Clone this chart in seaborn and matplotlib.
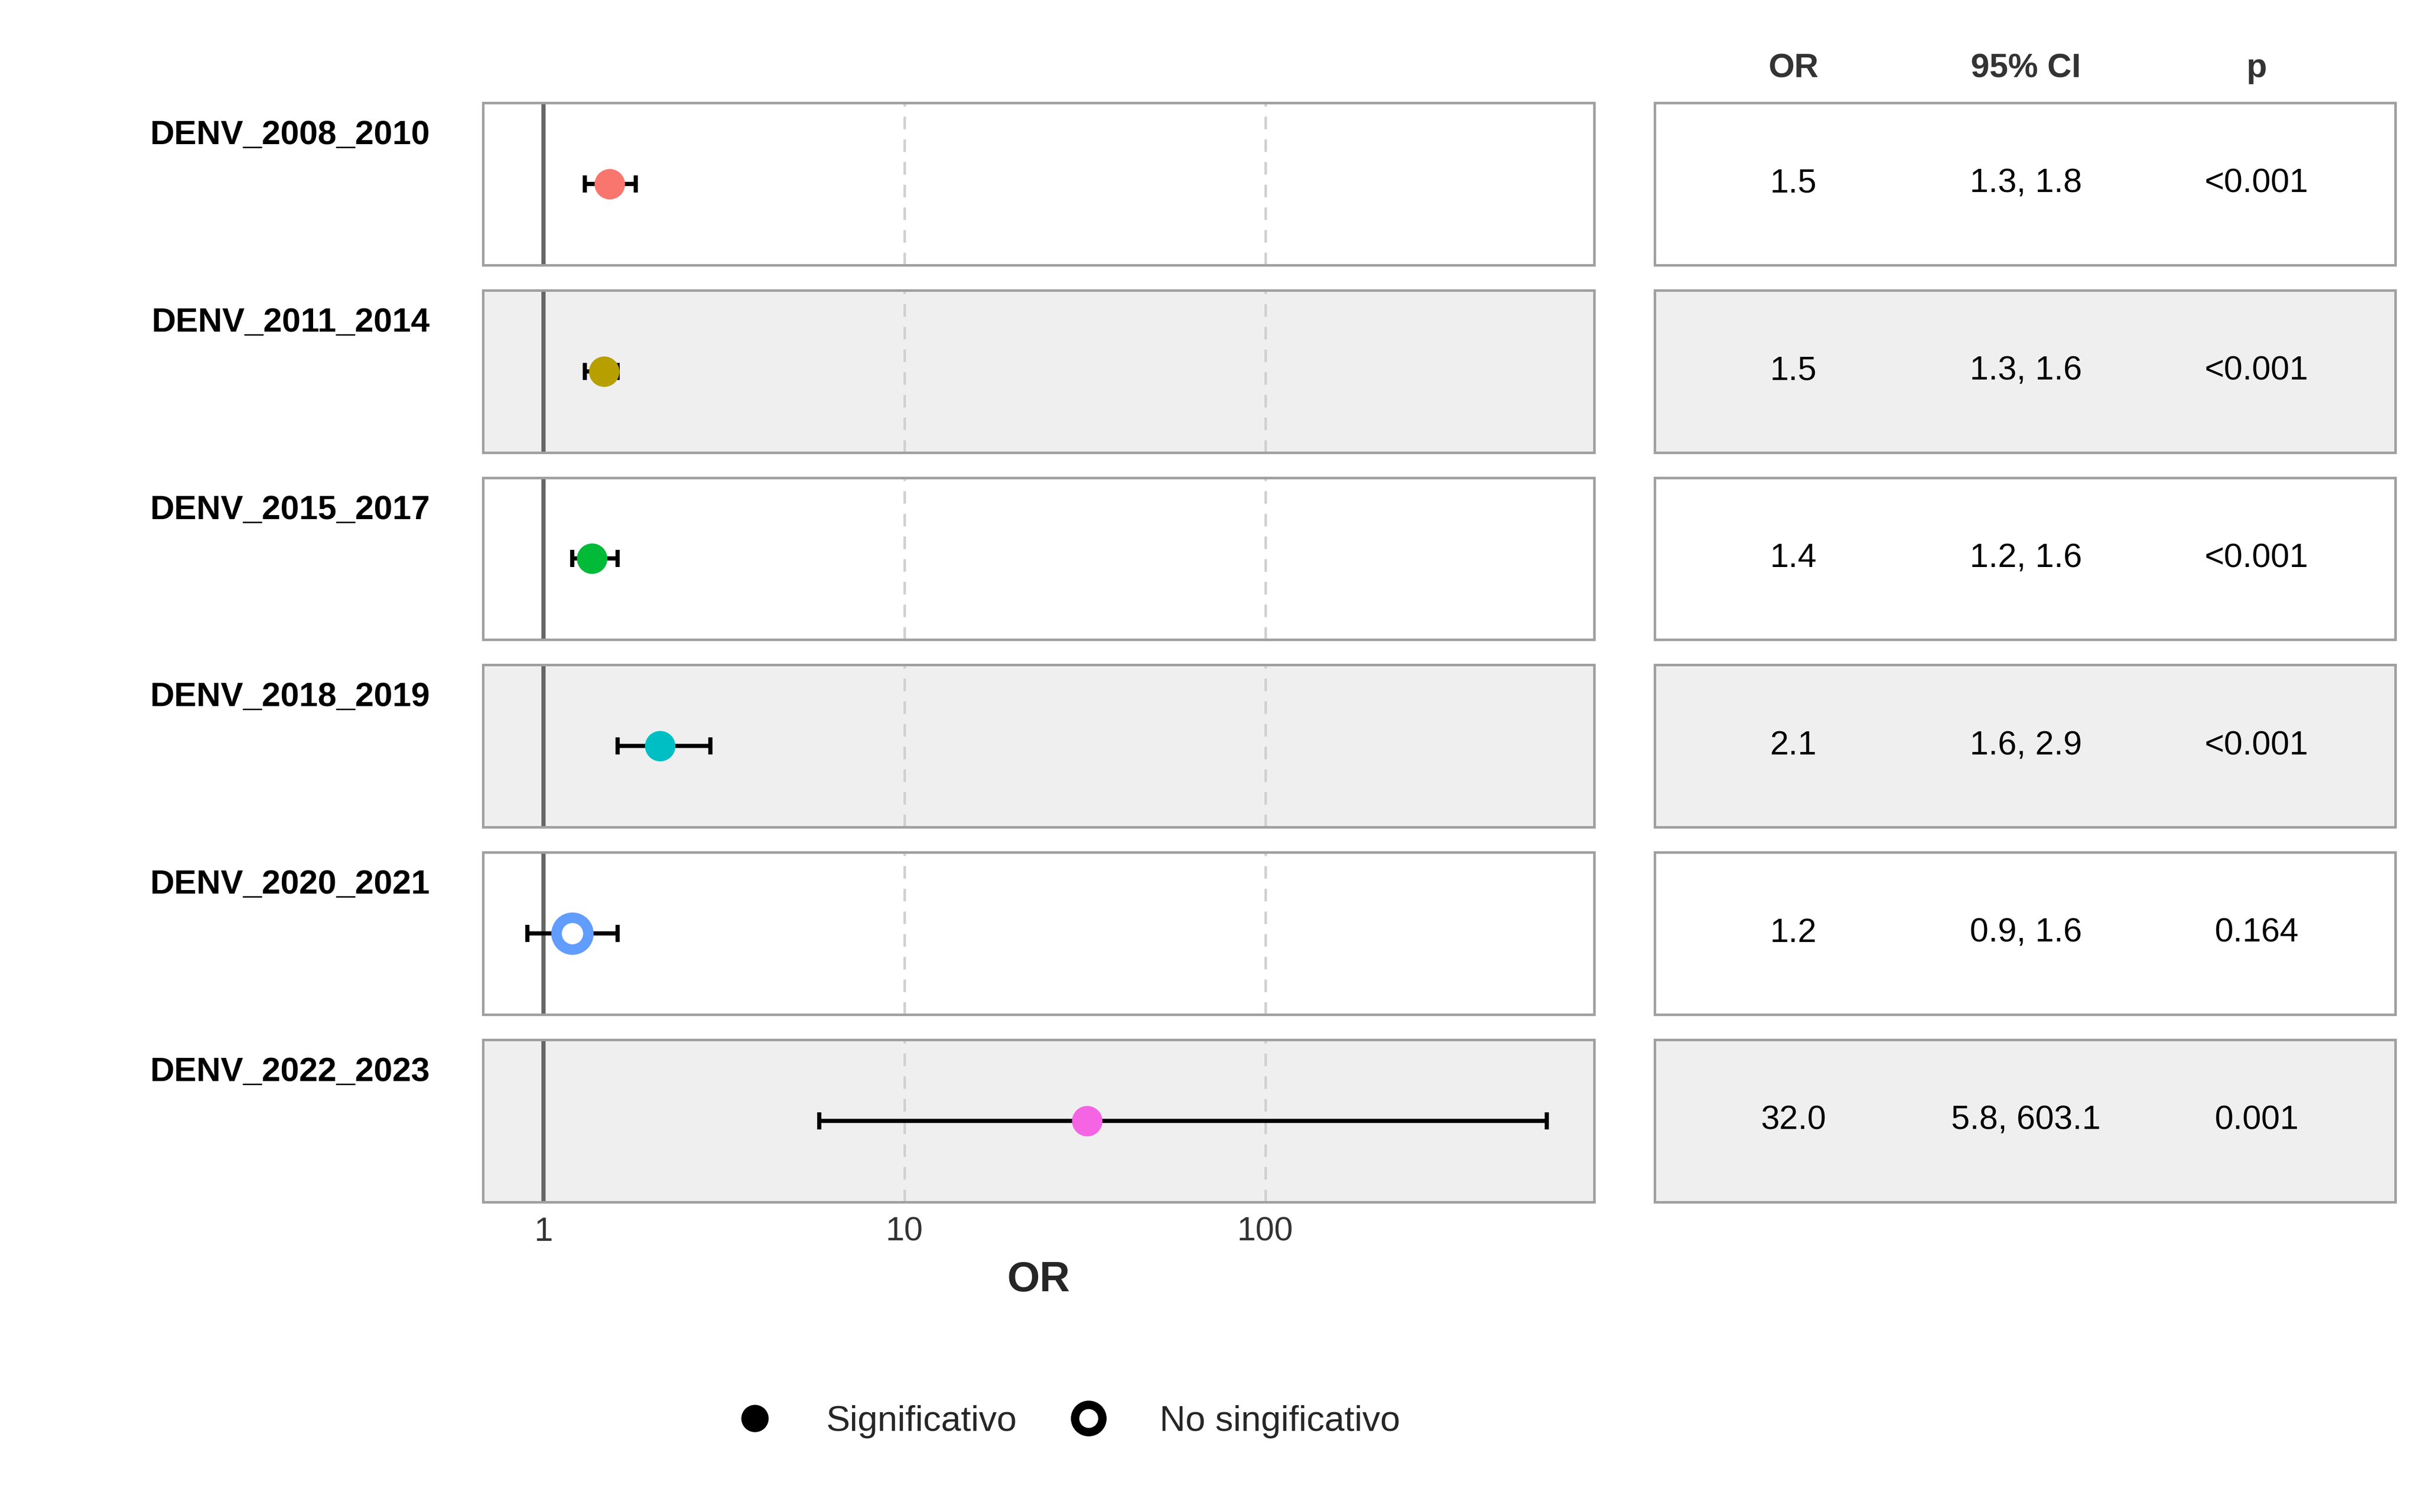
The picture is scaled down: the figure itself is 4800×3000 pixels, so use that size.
import matplotlib
matplotlib.use("Agg")
import matplotlib.pyplot as plt
import seaborn as sns
import pandas as pd
from matplotlib.lines import Line2D

sns.set_theme(style="white")
plt.rcParams['font.family'] = ['Liberation Sans', 'DejaVu Sans']

periods = ["DENV_2008_2010", "DENV_2011_2014", "DENV_2015_2017",
           "DENV_2018_2019", "DENV_2020_2021", "DENV_2022_2023"]
odds = [1.52, 1.47, 1.36, 2.1, 1.2, 32.0]
low = [1.3, 1.3, 1.2, 1.6, 0.9, 5.8]
high = [1.8, 1.6, 1.6, 2.9, 1.6, 603.1]
or_txt = ["1.5", "1.5", "1.4", "2.1", "1.2", "32.0"]
ci_txt = ["1.3, 1.8", "1.3, 1.6", "1.2, 1.6", "1.6, 2.9", "0.9, 1.6", "5.8, 603.1"]
p_txt = ["<0.001", "<0.001", "<0.001", "<0.001", "0.164", "0.001"]
signif = [True, True, True, True, False, True]
colors = ["#F8766D", "#B79F00", "#00BA38", "#00BFC4", "#619CFF", "#F564E3"]

W, H = 1553, 970
fig = plt.figure(figsize=(16, 10), dpi=300)

def box(x0, x1, y0, y1):
    return [x0 / W, 1 - y1 / H, (x1 - x0) / W, (y1 - y0) / H]

border = "#A0A0A0"
for i, name in enumerate(periods):
    top = 66 + i * 120.2
    bot = top + 104
    bg = "white" if i % 2 == 0 else "#EFEFEF"
    ax = fig.add_axes(box(310, 1023, top, bot))
    ax.set_facecolor(bg)
    ax.set_xscale("log")
    ax.set_xlim(0.679, 815)
    ax.set_ylim(-1, 1)
    for v in (10, 100):
        ax.axvline(v, color="#D0D0D0", ls=(0, (5, 4)), lw=1.2, zorder=0)
    ax.axvline(1, color="#666666", lw=2, zorder=1)
    ax.errorbar([odds[i]], [0], xerr=[[odds[i] - low[i]], [high[i] - odds[i]]],
                fmt="none", ecolor="black", elinewidth=2, capsize=4, capthick=2, zorder=2)
    d = pd.DataFrame({"x": [odds[i]], "y": [0], "g": [name]})
    if signif[i]:
        sns.scatterplot(data=d, x="x", y="y", hue="g", palette=[colors[i]], s=180,
                        edgecolor=colors[i], ax=ax, legend=False, zorder=3)
    else:
        sns.scatterplot(data=d, x="x", y="y", hue="g", palette=["white"], s=230,
                        edgecolor=colors[i], linewidth=5, ax=ax, legend=False, zorder=3)
    ax.set_yticks([])
    ax.set_ylabel("")
    for s in ax.spines.values():
        s.set_color(border)
        s.set_linewidth(1.2)
    if i == len(periods) - 1:
        ax.set_xticks([1, 10, 100])
        ax.set_xticklabels(["1", "10", "100"], fontsize=16, color="#333333")
        ax.tick_params(axis="x", length=0, pad=7)
        ax.minorticks_off()
        ax.set_xlabel("OR", fontsize=20, fontweight="bold", labelpad=6)
    else:
        ax.set_xticks([])
        ax.minorticks_off()
        ax.set_xlabel("")
    fig.text(276 / W, 1 - (top + 21) / H, name, ha="right", va="center",
             fontsize=16, fontweight="bold", color="black")

    axr = fig.add_axes(box(1062, 1537, top, bot))
    axr.set_facecolor(bg)
    axr.set_xlim(1062, 1537)
    axr.set_ylim(-1, 1)
    axr.set_xticks([])
    axr.set_yticks([])
    for s in axr.spines.values():
        s.set_color(border)
        s.set_linewidth(1.2)
    for xc, t in zip((1151, 1300, 1448), (or_txt[i], ci_txt[i], p_txt[i])):
        axr.text(xc, 0, t, ha="center", va="center", fontsize=16, color="black")

for xc, t in zip((1151, 1300, 1448), ("OR", "95% CI", "p")):
    fig.text(xc / W, 1 - 44 / H, t, ha="center", va="center", fontsize=16,
             fontweight="bold", color="#333333")

handles = [Line2D([], [], marker="o", ls="none", color="black", markersize=12),
           Line2D([], [], marker="o", ls="none", markerfacecolor="white",
                  markeredgecolor="black", markeredgewidth=4, markersize=13)]
fig.legend(handles, ["Significativo", "No singificativo"], loc="center",
           bbox_to_anchor=(680 / W, 1 - 912 / H), ncol=2, frameon=False,
           fontsize=17, handletextpad=1.0, columnspacing=1.0)

fig.savefig("out.png", dpi=300, facecolor="white")
